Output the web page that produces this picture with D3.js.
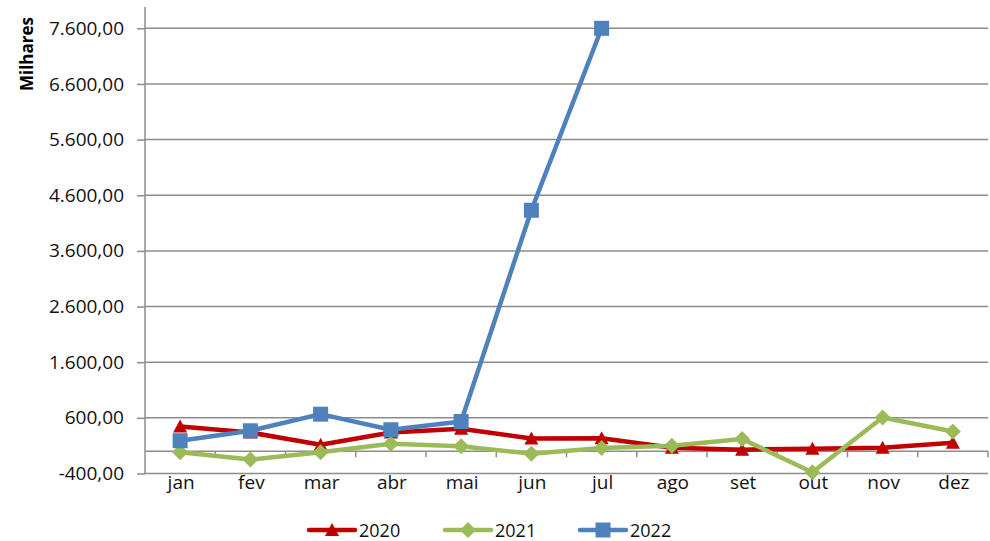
<!DOCTYPE html>
<html><head><meta charset="utf-8">
<script src="https://cdn.jsdelivr.net/npm/d3@7"></script>
<style>body{margin:0;background:#fff}svg{display:block}text{font-family:"Open Sans",sans-serif}</style>
</head><body><svg id="c" width="990" height="541"></svg>
<script>
const months = ["jan","fev","mar","abr","mai","jun","jul","ago","set","out","nov","dez"];
const s2020 = [445, 337, 118, 337, 403, 230, 235, 64, 29, 46, 64, 154];
const s2021 = [-20, -150, -20, 136, 88, -43, 59, 100, 220, -377, 605, 355];
const s2022 = [189, 368, 666, 386, 534, 4330, 7600];
const yTicks = [-400, 600, 1600, 2600, 3600, 4600, 5600, 6600, 7600];
const seriesNames = ["2020","2021","2022"];
const colors = ["#C00000","#9BBB59","#4F81BD"];
const shapes = ["tri","dia","sq"];

const svg = d3.select("#c");
const x = d3.scaleBand().domain(months).range([145, 988]);
const y = d3.scaleLinear().domain([-400, 7600]).range([473.5, 28.3]);
const loc = d3.formatLocale({decimal:",", thousands:".", grouping:[3], currency:["R$",""], minus:"-"});
const fmt = loc.format(",.2f");

// gridlines
svg.append("g").selectAll("line").data(yTicks).join("line")
  .attr("x1",145).attr("x2",988).attr("y1",d=>y(d)).attr("y2",d=>y(d))
  .attr("stroke","#8c8c8c").attr("stroke-width",1.5);

// y axis
const yAxis = svg.append("g").attr("transform","translate(145,0)")
  .call(d3.axisLeft(y).tickValues(yTicks).tickFormat(fmt).tickSize(8).tickPadding(13));
yAxis.select(".domain").remove();
yAxis.selectAll(".tick line").attr("stroke","#8c8c8c").attr("stroke-width",1.5);
yAxis.selectAll("text").attr("font-size",19).attr("fill","#111");
svg.append("line").attr("x1",145).attr("x2",145).attr("y1",7).attr("y2",474)
  .attr("stroke","#8c8c8c").attr("stroke-width",1.5);

// x axis at zero
const xAxisG = svg.append("g").attr("transform",`translate(0,${y(0)})`);
xAxisG.append("line").attr("x1",145).attr("x2",988).attr("stroke","#8c8c8c").attr("stroke-width",1.5);
xAxisG.selectAll("line.t").data(months.slice(1)).join("line").attr("class","t")
  .attr("x1",d=>x(d)).attr("x2",d=>x(d)).attr("y1",0).attr("y2",6)
  .attr("stroke","#8c8c8c").attr("stroke-width",1.5);
xAxisG.append("line").attr("x1",988).attr("x2",988).attr("y1",0).attr("y2",6)
  .attr("stroke","#8c8c8c").attr("stroke-width",1.5);

// category labels
svg.append("g").selectAll("text").data(months).join("text")
  .attr("x",d=>x(d)+x.bandwidth()/2+1).attr("y",489)
  .attr("text-anchor","middle").attr("font-size",19).attr("fill","#111").text(d=>d);

// y title
svg.append("text").attr("transform","translate(33,54) rotate(-90)")
  .attr("text-anchor","middle").attr("font-weight","bold").attr("font-size",17).attr("fill","#000")
  .text("Milhares");

function marker(g, shape, color, cx, cy){
  if(shape==="tri") g.append("path").attr("d",`M${cx},${cy-7}L${cx+7},${cy+6}L${cx-7},${cy+6}Z`).attr("fill",color);
  else if(shape==="dia") g.append("path").attr("d",`M${cx},${cy-8}L${cx+8},${cy}L${cx},${cy+8}L${cx-8},${cy}Z`).attr("fill",color);
  else g.append("rect").attr("x",cx-7.5).attr("y",cy-7.5).attr("width",15).attr("height",15).attr("fill",color);
}

const allSeries = [s2020, s2021, s2022];
const line = d3.line().x((d,i)=>x(months[i])+x.bandwidth()/2).y(d=>y(d));
allSeries.forEach((s,k)=>{
  const g = svg.append("g");
  g.append("path").datum(s).attr("d",line).attr("fill","none")
    .attr("stroke",colors[k]).attr("stroke-width",4.5).attr("stroke-linejoin","round");
  s.forEach((v,i)=>marker(g, shapes[k], colors[k], x(months[i])+x.bandwidth()/2, y(v)));
});

// legend
const legX = [309, 445, 580];
const legY = 530;
seriesNames.forEach((n,k)=>{
  const g = svg.append("g");
  g.append("line").attr("x1",legX[k]).attr("x2",legX[k]+46).attr("y1",legY).attr("y2",legY)
    .attr("stroke",colors[k]).attr("stroke-width",4.5).attr("stroke-linecap","round");
  marker(g, shapes[k], colors[k], legX[k]+23, legY);
  g.append("text").attr("x",legX[k]+50).attr("y",legY).attr("dominant-baseline","central")
    .attr("font-size",18).attr("fill","#111").text(n);
});
</script></body></html>
